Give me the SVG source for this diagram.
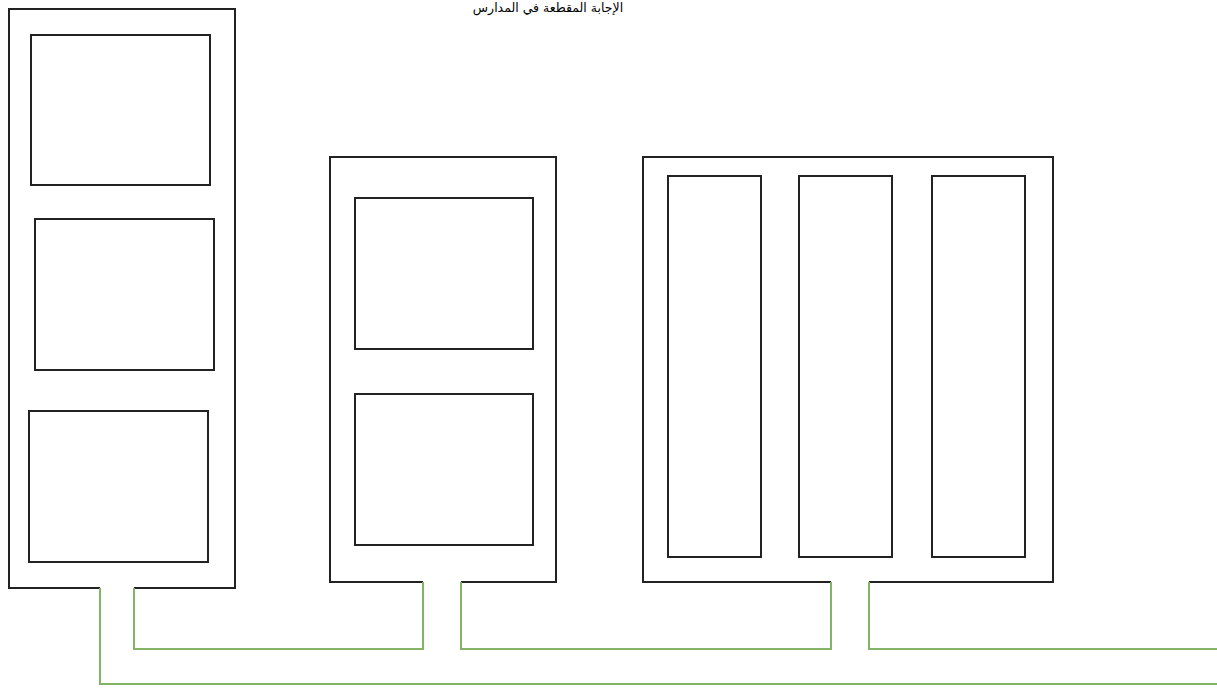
<svg xmlns="http://www.w3.org/2000/svg" width="1217" height="689" viewBox="0 0 1217 689">
<style>
.w{fill:none;stroke:#222;stroke-width:2}
.r{fill:#fff;stroke:#222;stroke-width:2}
.g{fill:none;stroke:#82b366;stroke-width:2}
.t{font-family:"DejaVu Sans","Noto Sans",sans-serif;font-size:12.5px;fill:#000}
</style>
<rect width="1217" height="689" fill="#fff"/>
<text class="t" x="548" y="12" text-anchor="middle" direction="rtl">الإجابة المقطعة في المدارس</text>
<g id="building1">
<path class="w" d="M100 588 H9 V9 H235 V588 H134"/>
<rect class="r" x="31" y="35" width="179" height="150"/>
<rect class="r" x="35" y="219" width="179" height="151"/>
<rect class="r" x="29" y="411" width="179" height="151"/>
</g>
<g id="building2">
<path class="w" d="M423 582 H330 V157 H556 V582 H461"/>
<rect class="r" x="355" y="198" width="178" height="151"/>
<rect class="r" x="355" y="394" width="178" height="151"/>
</g>
<g id="building3">
<path class="w" d="M831 582 H643 V157 H1053 V582 H869"/>
<rect class="r" x="668" y="176" width="93" height="381"/>
<rect class="r" x="799" y="176" width="93" height="381"/>
<rect class="r" x="932" y="176" width="93" height="381"/>
</g>
<g id="connectors">
<path class="g" d="M134 588 V649 H423 V582"/>
<path class="g" d="M461 582 V649 H831 V582"/>
<path class="g" d="M869 582 V649 H1217"/>
<path class="g" d="M100 588 V684 H1217"/>
</g>
</svg>
